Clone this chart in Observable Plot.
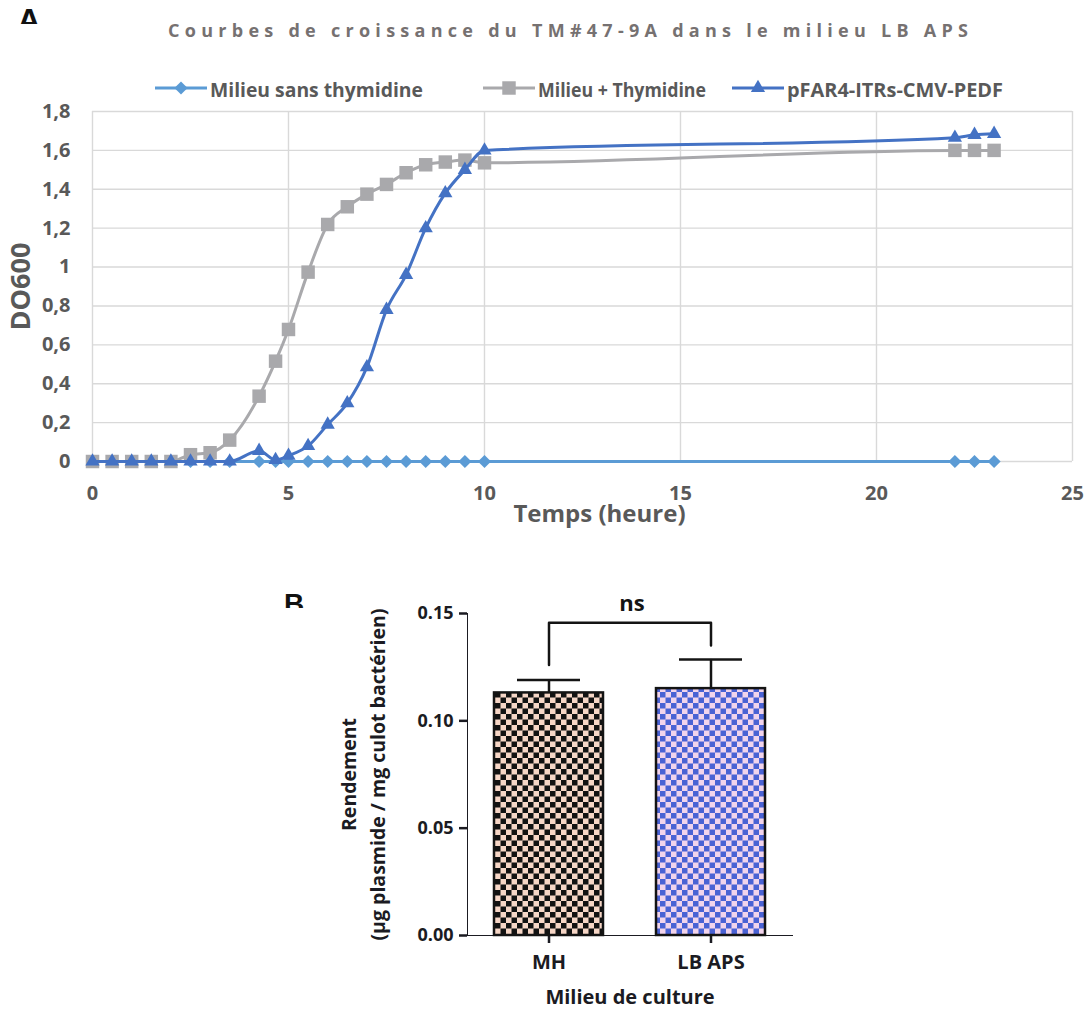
<!DOCTYPE html>
<html lang="fr">
<head>
<meta charset="utf-8">
<title>Courbes de croissance du TM#47-9A</title>
<script src="https://cdn.jsdelivr.net/npm/d3@7"></script>
<script src="https://cdn.jsdelivr.net/npm/@observablehq/plot@0.6"></script>
<style>
html, body { margin:0; padding:0; background:#fff; overflow:hidden; }
#root { position:relative; width:1085px; height:1010px; background:#fff; }
#root > * { position:absolute; }
#header { left:0; top:0; overflow:visible; }
#chartA { left:0; top:100px; }
#chartB { left:0; top:560px; }
#labelA { left:17px; top:0; }
#labelB { left:284px; top:580px; }
.plotB g[aria-label^="x-axis"], .plotB g[aria-label^="y-axis"] { stroke-width:2.5px; }
.plotB g[aria-label^="x-axis"] text { font-size:20px; }
</style>
</head>
<body>
<div id="root">
  <div id="chartA"></div>
  <div id="chartB"></div>
  <svg id="header" width="1085" height="112"></svg>
  <svg id="labelA" width="40" height="24"><text x="0.5" y="31" font-family="Liberation Sans, Arial, sans-serif" font-weight="bold" font-size="32" fill="#111">A</text></svg>
  <svg id="labelB" width="30" height="28"><text x="0" y="33" font-family="Liberation Sans, Arial, sans-serif" font-weight="bold" font-size="28" fill="#111">B</text></svg>
</div>
<script>
// ================= DATA =================
// Panel A : courbes de croissance (DO600 vs temps)
const timeHours       = [0, 0.5, 1, 1.5, 2, 2.5, 3, 3.5, 4.25, 4.67, 5, 5.5, 6, 6.5, 7, 7.5, 8, 8.5, 9, 9.5, 10, 22, 22.5, 23];
const odSansThymidine = [0, 0, 0, 0, 0, 0, 0, 0, 0, 0, 0, 0, 0, 0, 0, 0, 0, 0, 0, 0, 0, 0, 0, 0];
const odPlusThymidine = [0, 0, 0, 0, 0, 0.035, 0.045, 0.11, 0.336, 0.516, 0.679, 0.974, 1.219, 1.31, 1.375, 1.425, 1.485, 1.526, 1.54, 1.55, 1.536, 1.6, 1.6, 1.6];
const odPFAR4         = [0, 0, 0, 0, 0, 0, 0, 0, 0.055, 0.008, 0.03, 0.08, 0.19, 0.3, 0.485, 0.78, 0.96, 1.2, 1.38, 1.5, 1.6, 1.665, 1.68, 1.685];
const seriesNames     = ["Milieu sans thymidine", "Milieu + Thymidine", "pFAR4-ITRs-CMV-PEDF"];
const xTicksA         = [0, 5, 10, 15, 20, 25];
const yTicksA         = [0, 0.2, 0.4, 0.6, 0.8, 1, 1.2, 1.4, 1.6, 1.8];
const titleA          = "Courbes de croissance du TM#47-9A dans le milieu LB APS";
const xLabelA         = "Temps (heure)";
const yLabelA         = "DO600";

// Panel B : rendement plasmidique
const mediums    = ["MH", "LB APS"];
const yieldMean  = [0.113, 0.115];
const yieldSD    = [0.006, 0.0136];
const yTicksB    = [0, 0.05, 0.10, 0.15];
const bracketCat = ["MH", "MH", "LB APS", "LB APS"];
const bracketY   = [0.126, 0.1457, 0.1457, 0.1351];
const sigLabel   = "ns";
const xLabelB    = "Milieu de culture";
const yLabelB    = "Rendement\n(µg plasmide / mg culot bactérien)";

// ================= STYLES =================
const seriesStyle = [
  {color: "#5B9BD5", symbol: "diamond2", d3sym: d3.symbolDiamond2, r: 5.9},
  {color: "#A9A9AC", symbol: "square",   d3sym: d3.symbolSquare,   r: 7.6},
  {color: "#4472C4", symbol: "triangle", d3sym: d3.symbolTriangle, r: 5.3}
];
const axisGrey = "#595959";
const ink = "#141414";

// ================= HEADER (title + legend) =================
const header = d3.select("#header");
header.append("text")
  .attr("x", 168).attr("y", 37)
  .attr("textLength", 800).attr("lengthAdjust", "spacing")
  .attr("font-family", "'Open Sans', sans-serif").attr("font-weight", "bold").attr("font-size", 18)
  .attr("fill", "#767171")
  .text(titleA);

const legendX = [155, 483, 732];
const legendTextWidth = [213, 168, 216];
seriesNames.forEach((name, k) => {
  const s = seriesStyle[k];
  const g = header.append("g").attr("transform", `translate(${legendX[k]},88)`);
  g.append("line").attr("x1", 0).attr("x2", 52).attr("y1", 0).attr("y2", 0)
    .attr("stroke", s.color).attr("stroke-width", 3);
  g.append("path").attr("transform", "translate(26,0)")
    .attr("d", d3.symbol(s.d3sym, Math.PI * s.r * s.r)())
    .attr("fill", s.color);
  g.append("text").attr("x", 55).attr("y", 8.7)
    .attr("textLength", legendTextWidth[k]).attr("lengthAdjust", "spacingAndGlyphs")
    .attr("font-family", "'Open Sans', sans-serif").attr("font-weight", "bold").attr("font-size", 20)
    .attr("fill", axisGrey)
    .text(name);
});

// ================= CHART A =================
const seriesValues = [odSansThymidine, odPlusThymidine, odPFAR4];
const rowsA = seriesValues.map(vals => timeHours.map((t, i) => ({t, v: vals[i]})));
const marksA = [
  Plot.ruleY(yTicksA, {y: d => d, stroke: "#D9D9D9", strokeWidth: 1.4}),
  Plot.ruleX(xTicksA, {x: d => d, stroke: "#D9D9D9", strokeWidth: 1.4})
];
rowsA.forEach((rows, k) => {
  const s = seriesStyle[k];
  marksA.push(Plot.line(rows, {x: "t", y: "v", stroke: s.color, strokeWidth: 3, curve: "monotone-x"}));
  marksA.push(Plot.dot(rows, {x: "t", y: "v", fill: s.color, symbol: s.symbol, r: s.r}));
});
marksA.push(Plot.text([yLabelA], {text: d => d, frameAnchor: "left", textAnchor: "middle", lineAnchor: "middle",
  rotate: -90, dx: -71, fontSize: 27, fontWeight: "bold", fill: axisGrey}));
marksA.push(Plot.text([xLabelA], {text: d => d, frameAnchor: "bottom", textAnchor: "middle", lineAnchor: "middle",
  dx: 17, dy: 53, fontSize: 24, fontWeight: "bold", fill: axisGrey}));

const plotA = Plot.plot({
  width: 1085, height: 440,
  marginTop: 11, marginBottom: 79, marginLeft: 92, marginRight: 13,
  style: "font-family:'Open Sans',sans-serif;font-size:20px;font-weight:bold;color:#595959;background:transparent;overflow:visible",
  x: {domain: [0, 25], ticks: xTicksA, tickSize: 0, tickPadding: 24, tickFormat: d => String(d), label: null},
  y: {domain: [0, 1.8], ticks: yTicksA, tickSize: 0, tickPadding: 22,
      tickFormat: d => String(+d.toFixed(1)).replace(".", ","), label: null},
  marks: marksA
});
document.getElementById("chartA").appendChild(plotA);

// ================= CHART B =================
const rowsB = mediums.map((m, i) => ({cat: m, mean: yieldMean[i], top: yieldMean[i] + yieldSD[i]}));
const bracketRows = bracketCat.map((c, i) => ({cat: c, y: bracketY[i]}));

const plotB = Plot.plot({
  width: 1085, height: 450,
  marginTop: 53, marginBottom: 75, marginLeft: 467, marginRight: 293,
  style: "font-family:'Open Sans',sans-serif;font-size:18px;font-weight:bold;color:#1b1b22;background:transparent;overflow:visible",
  x: {domain: mediums, paddingInner: 0.325, paddingOuter: 0.16, tickSize: 8, tickPadding: 11, label: null, line: true},
  y: {domain: [0, 0.15], ticks: yTicksB, tickFormat: d3.format(".2f"), tickSize: 8, tickPadding: 6, label: null, line: true},
  marks: [
    Plot.barY(rowsB.filter(d => d.cat === mediums[0]), {x: "cat", y: "mean", fill: "url(#patMH)", stroke: ink, strokeWidth: 2.5}),
    Plot.barY(rowsB.filter(d => d.cat === mediums[1]), {x: "cat", y: "mean", fill: "url(#patLB)", stroke: ink, strokeWidth: 2.5}),
    Plot.ruleX(rowsB, {x: "cat", y1: "mean", y2: "top", stroke: ink, strokeWidth: 2.5}),
    Plot.tickY(rowsB, {x: "cat", y: "top", stroke: ink, strokeWidth: 2.5, insetLeft: 23, insetRight: 23}),
    Plot.line(bracketRows, {x: "cat", y: "y", stroke: ink, strokeWidth: 2.5}),
    Plot.text([sigLabel], {text: d => d, frameAnchor: "top", textAnchor: "middle", lineAnchor: "middle",
      dx: 2, dy: -10, fontSize: 22, fontWeight: "bold", fill: ink}),
    Plot.text([xLabelB], {text: d => d, frameAnchor: "bottom", textAnchor: "middle", lineAnchor: "middle",
      dy: 62, fontSize: 20, fontWeight: "bold", fill: "#1b1b22"}),
    Plot.text([yLabelB], {text: d => d, frameAnchor: "left", textAnchor: "middle", lineAnchor: "middle",
      rotate: -90, dx: -106, lineHeight: 1.45, fontSize: 19.5, fontWeight: "bold", fill: "#1b1b22"})
  ]
});
plotB.classList.add("plotB");
const defs = d3.select(plotB).insert("defs", ":first-child");
function checker(id, dark, light) {
  const p = defs.append("pattern").attr("id", id).attr("patternUnits", "userSpaceOnUse")
    .attr("width", 11).attr("height", 11);
  p.append("rect").attr("width", 11).attr("height", 11).attr("fill", light);
  p.append("rect").attr("width", 5.5).attr("height", 5.5).attr("fill", dark);
  p.append("rect").attr("x", 5.5).attr("y", 5.5).attr("width", 5.5).attr("height", 5.5).attr("fill", dark);
}
checker("patMH", "#121212", "#f6d6c6");
checker("patLB", "#4a62d4", "#f2d4ec");
document.getElementById("chartB").appendChild(plotB);
</script>
</body>
</html>
